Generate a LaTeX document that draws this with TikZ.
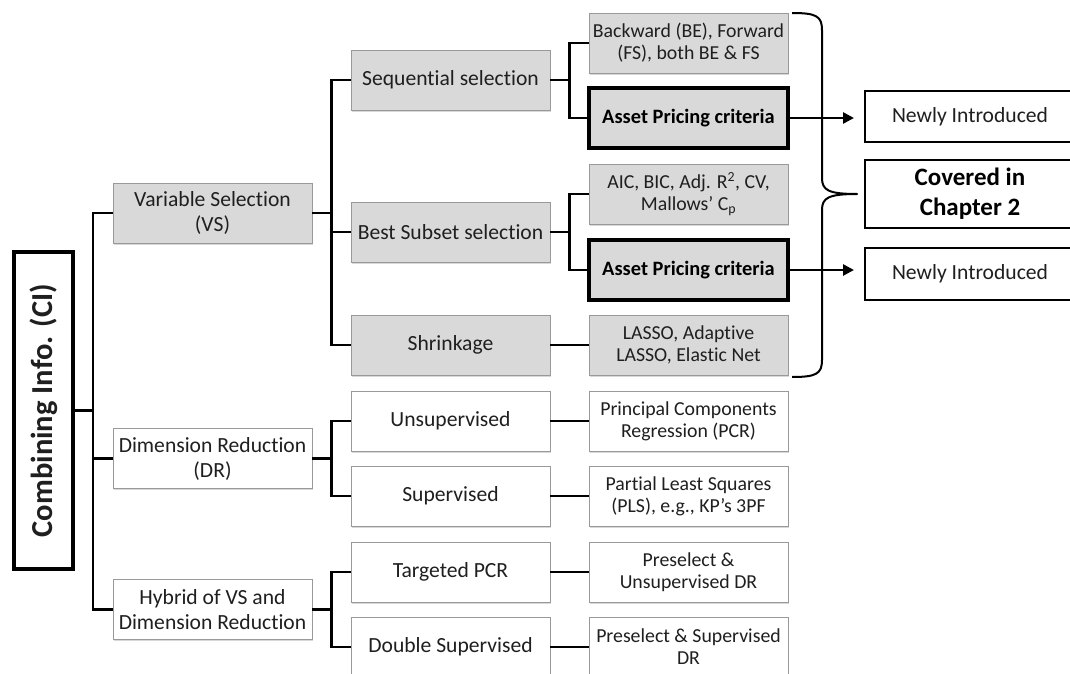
\documentclass[tikz,border=0pt]{standalone}
\usepackage{fontspec}
\setmainfont{Carlito}[Ligatures=NoCommon]
\usetikzlibrary{arrows.meta,shadows}
\begin{document}
\begin{tikzpicture}[x=1pt,y=-1pt,
  boxbase/.style={minimum width=199pt, minimum height=60pt, inner sep=2pt,
    align=center, text=black!88,
    drop shadow={shadow xshift=1.2pt, shadow yshift=-1.6pt, opacity=0.3}},
  greybox/.style={boxbase, draw=black!40, line width=0.8pt, fill=black!15,
    font=\fontsize{21.6}{25}\selectfont},
  whitebox/.style={boxbase, draw=black!40, line width=0.8pt, fill=white,
    font=\fontsize{21.6}{25}\selectfont},
  greyleaf/.style={greybox, font=\fontsize{19.8}{22}\selectfont},
  whiteleaf/.style={whitebox, font=\fontsize{19.8}{22}\selectfont},
  keybox/.style={boxbase, draw=black, line width=3.5pt, fill=black!15,
    text=black, font=\bfseries\fontsize{20.4}{22}\selectfont},
  notebox/.style={draw=black, line width=2pt, fill=white, minimum width=210pt,
    inner sep=2pt, align=center, text=black!88,
    font=\fontsize{21.6}{25}\selectfont},
  conn/.style={draw=black, line width=2.6pt},
  tip/.style={-{Triangle[length=11pt,width=11pt]}, shorten >=10pt}
]
\clip (0,0) rectangle (1070,674);
\fill[white] (0,0) rectangle (1070,674);

% root
\node[draw=black, line width=4pt, fill=white, minimum width=59pt,
  minimum height=317pt,
  drop shadow={shadow xshift=1.2pt, shadow yshift=-1.6pt, opacity=0.3}]
  (ci) at (43.5,410.5) {};
\node[rotate=90, font=\bfseries\fontsize{30.5}{33}\selectfont, text=black!88]
  (citext) at (ci.center) {Combining Info. (CI)};

% first level
\node[greybox]  (vs)  at (212.5,213)   {Variable Selection\\(VS)};
\node[whitebox] (dr)  at (212.5,458.5) {Dimension Reduction\\(DR)};
\node[whitebox] (hyb) at (212.5,609.5) {Hybrid of VS and\\Dimension Reduction};

% second level
\node[greybox]  (seq)  at (450.5,80)  {Sequential selection};
\node[greybox]  (best) at (450.5,232) {Best Subset selection};
\node[greybox]  (shr)  at (450.5,345) {Shrinkage};
\node[whitebox] (uns)  at (450.5,421) {Unsupervised};
\node[whitebox] (sup)  at (450.5,496) {Supervised};
\node[whitebox] (tpcr) at (450.5,572) {Targeted PCR};
\node[whitebox] (dsup) at (450.5,647) {Double Supervised};

% third level
\node[greyleaf]  (be)    at (688.5,43)  {Backward (BE), Forward\\(FS), both BE \& FS};
\node[keybox]    (ap1)   at (688.5,118) {Asset Pricing criteria};
\node[greyleaf]  (aic)   at (688.5,194) {AIC, BIC, Adj. R\textsuperscript{2}, CV,\\Mallows’ C\textsubscript{p}};
\node[keybox]    (ap2)   at (688.5,270) {Asset Pricing criteria};
\node[greyleaf]  (lasso) at (688.5,345) {LASSO, Adaptive\\LASSO, Elastic Net};
\node[whiteleaf] (pcr)   at (688.5,421) {Principal Components\\Regression (PCR)};
\node[whiteleaf] (pls)   at (688.5,496) {Partial Least Squares\\(PLS), e.g., KP’s 3PF};
\node[whiteleaf] (pun)   at (688.5,572) {Preselect \&\\Unsupervised DR};
\node[whiteleaf] (psu)   at (688.5,647) {Preselect \& Supervised\\DR};

% notes on the right
\node[notebox, minimum height=51pt] (new1) at (970,116.5) {Newly Introduced};
\node[notebox, minimum height=68pt,
  font=\bfseries\fontsize{25}{30}\selectfont, text=black] (cov) at (970,194)
  {Covered in\\Chapter 2};
\node[notebox, minimum height=52pt] (new2) at (970,274) {Newly Introduced};

% tree connectors
\draw[conn] (ci.east) -- ++(18,0) |- (vs.west);
\draw[conn] (ci.east) -- ++(18,0) |- (dr.west);
\draw[conn] (ci.east) -- ++(18,0) |- (hyb.west);

\draw[conn] (vs.east) -- ++(19,0) |- (seq.west);
\draw[conn] (vs.east) -- ++(19,0) |- (best.west);
\draw[conn] (vs.east) -- ++(19,0) |- (shr.west);
\draw[conn] (dr.east) -- ++(19,0) |- (uns.west);
\draw[conn] (dr.east) -- ++(19,0) |- (sup.west);
\draw[conn] (hyb.east) -- ++(19,0) |- (tpcr.west);
\draw[conn] (hyb.east) -- ++(19,0) |- (dsup.west);

\draw[conn] (seq.east) -- ++(19,0) |- (be.west);
\draw[conn] (seq.east) -- ++(19,0) |- (ap1.west);
\draw[conn] (best.east) -- ++(19,0) |- (aic.west);
\draw[conn] (best.east) -- ++(19,0) |- (ap2.west);
\draw[conn] (shr) -- (lasso);
\draw[conn] (uns) -- (pcr);
\draw[conn] (sup) -- (pls);
\draw[conn] (tpcr) -- (pun);
\draw[conn] (dsup) -- (psu);

% arrows to the notes
\draw[conn, tip] (ap1.east) -- (ap1.east -| new1.west);
\draw[conn, tip] (ap2.east) -- (ap2.east -| new2.west);

% brace grouping the variable selection leaves
\coordinate (bracetop) at (792,13);
\coordinate (bracebot) at (792,377);
\coordinate (bracetip) at (857,194);
\draw[line width=2pt, line join=round]
  (bracetop) .. controls (816,13) and (822,16) .. (822,30)
  -- (822,178) .. controls (822,190) and (828,194) .. (bracetip)
  .. controls (828,194) and (822,198) .. (822,210)
  -- (822,360) .. controls (822,374) and (816,377) .. (bracebot);
\end{tikzpicture}
\end{document}
